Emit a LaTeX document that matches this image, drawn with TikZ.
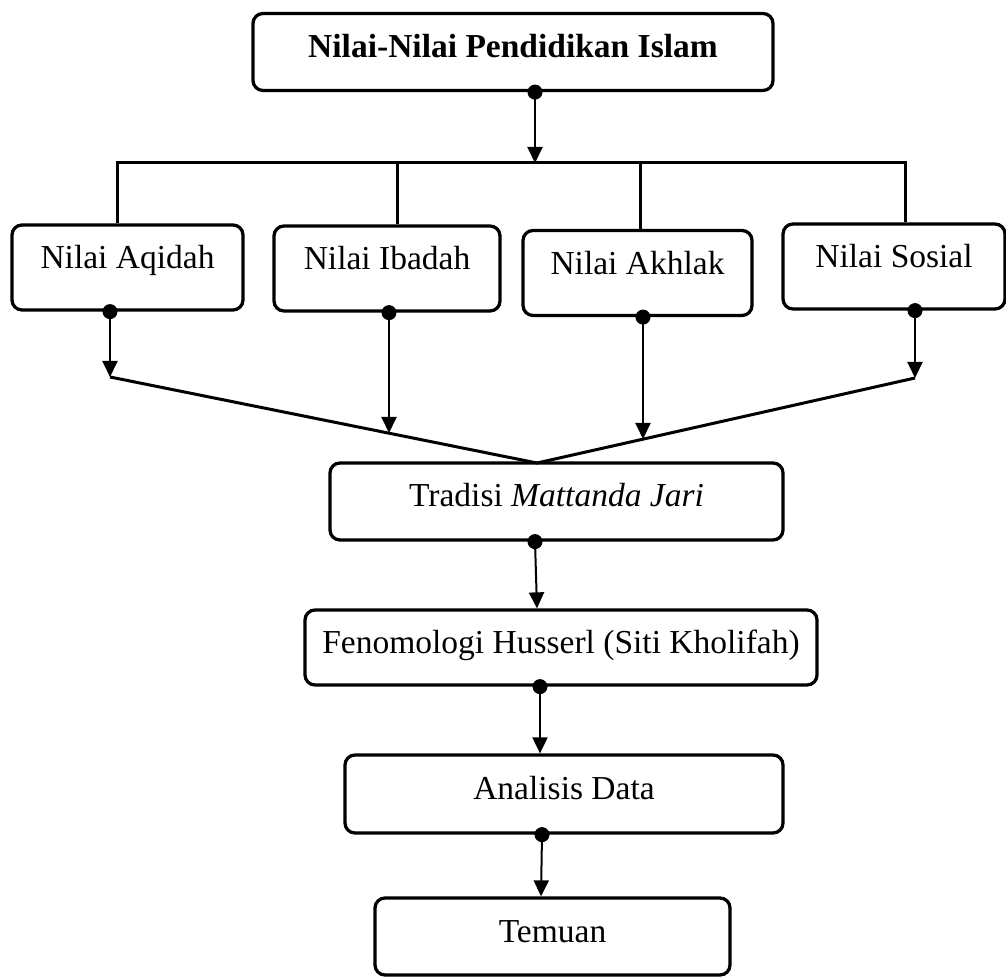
\documentclass[tikz,border=0pt]{standalone}
\usepackage{fontspec}
\setmainfont{Liberation Serif}
\usepackage{tikz}
\usetikzlibrary{arrows.meta,positioning,calc}
\tikzstyle{box}=[draw, rounded corners=4pt, line width=1.3pt, inner xsep=0pt, inner ysep=0pt, text height=17.6pt, text depth=13.2pt, font=\fontsize{13.4}{16}\selectfont]
\tikzstyle{nbox}=[box, text height=17.6pt, text depth=16.4pt]
\tikzstyle{bar}=[line width=1.2pt]
\tikzstyle{link}=[line width=0.8pt, arrows={Circle[length=6pt]-Triangle[width=6pt,length=6.4pt]}, shorten <=-3pt]

\begin{document}
\begin{tikzpicture}[x=0.4pt,y=-0.4pt]
				\useasboundingbox (0,0) rectangle (1006,977);
				\node[box, minimum width=208pt, font=\fontsize{13.4}{16}\selectfont\bfseries] (N) at (513,52) {Nilai-Nilai Pendidikan Islam};
				\node[nbox, minimum width=92.4pt] (A) at (127.5,267.5) {Nilai Aqidah};
				\node[nbox, minimum width=90.4pt] (B) at (387,268.5) {Nilai Ibadah};
				\node[nbox, minimum width=91.6pt] (C) at (637.5,273) {Nilai Akhlak};
				\node[nbox, minimum width=88.8pt] (D) at (894,266.5) {Nilai Sosial};
				\node[box, minimum width=181.2pt] (T) at (556.5,501.5) {Tradisi \textit{Mattanda Jari}};
				\node[box, minimum width=204.8pt, text height=17.2pt, text depth=12.8pt] (F) at (561,647.5) {Fenomologi Husserl (Siti Kholifah)};
				\node[box, minimum width=175.2pt, text depth=13.6pt] (S) at (564,794) {Analisis Data};
				\node[box, minimum width=142pt] (E) at (552.5,936.5) {Temuan};
				
				\coordinate (L) at (117,163);
				\coordinate (R) at (905,163);
				\coordinate (P) at (110,377);
				\coordinate (Q) at (915,378);
				\coordinate (M) at (537,463);
				
				\draw[bar] (L |- A.north)--(L)--(R)--(R |- D.north);
				\draw[bar] (397,163)--(397,0 |- B.north);
				\draw[bar] (640,163)--(640,0 |- C.north);
				\draw[bar] (P)--(M)--(Q);
				\draw[link] (535,0 |- N.south)--(535,163);
				\draw[link] (110,0 |- A.south)--(P);
				\draw[link] (389,0 |- B.south)--(389,433);
				\draw[link] (643,0 |- C.south)--(643,439);
				\draw[link] (915,0 |- D.south)--(Q);
				\draw[link] (535,0 |- T.south)--(537,0 |- F.north);
				\draw[link] (540,0 |- F.south)--(540,0 |- S.north);
				\draw[link] (542,0 |- S.south)--(541,0 |- E.north);
			\end{tikzpicture}
\end{document}
